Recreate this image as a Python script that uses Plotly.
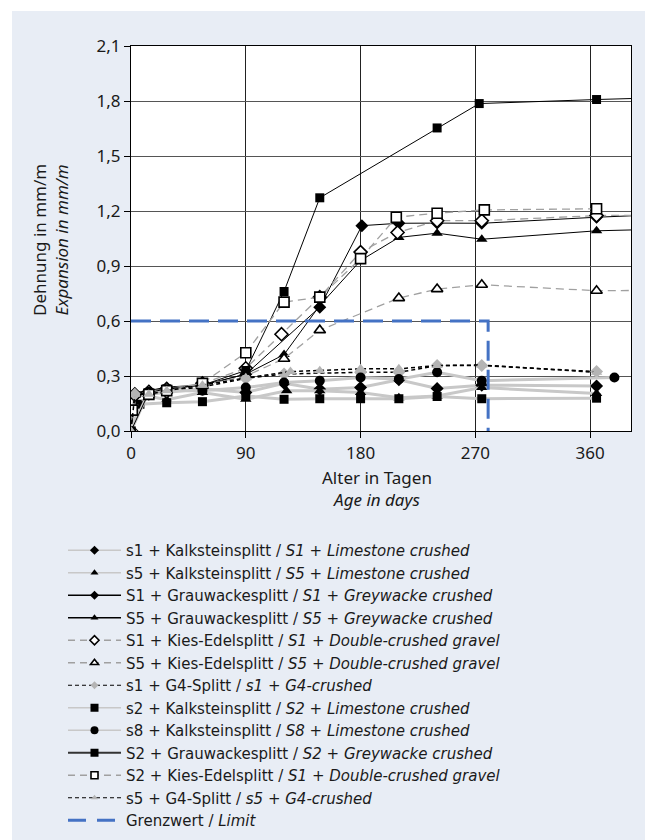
import plotly.graph_objects as go

# ---------------- data ----------------
s1_kalk_days = [0, 3, 14, 28, 56, 90, 120, 148, 180, 210, 240, 275, 365]
s1_kalk_vals = [0.0, 0.19, 0.20, 0.21, 0.23, 0.21, 0.26, 0.228, 0.237, 0.28, 0.232, 0.25, 0.246]

s5_kalk_days = [0, 3, 14, 28, 56, 90, 122, 148, 180, 210, 240, 275, 365]
s5_kalk_vals = [0.0, 0.20, 0.19, 0.17, 0.21, 0.173, 0.219, 0.219, 0.21, 0.182, 0.191, 0.237, 0.205]

S1_grau_days = [0, 3, 14, 28, 56, 90, 148, 181, 210, 240, 275, 365, 400]
S1_grau_vals = [0.0, 0.20, 0.22, 0.23, 0.25, 0.31, 0.675, 1.12, 1.133, 1.134, 1.133, 1.166, 1.176]

S5_grau_days = [0, 3, 14, 28, 56, 90, 120, 148, 180, 210, 240, 275, 365, 400]
S5_grau_vals = [0.0, 0.21, 0.22, 0.24, 0.25, 0.31, 0.417, 0.685, 0.93, 1.056, 1.079, 1.046, 1.092, 1.098]

S1_kies_days = [0, 3, 14, 28, 56, 90, 118, 148, 180, 209, 240, 275, 365, 400]
S1_kies_vals = [0.0, 0.20, 0.21, 0.23, 0.26, 0.342, 0.528, 0.73, 0.976, 1.083, 1.147, 1.147, 1.175, 1.177]

S5_kies_days = [0, 3, 14, 28, 56, 90, 120, 148, 210, 240, 275, 365, 400]
S5_kies_vals = [0.0, 0.20, 0.20, 0.22, 0.25, 0.30, 0.394, 0.55, 0.725, 0.774, 0.798, 0.765, 0.767]

s1_g4_days = [0, 3, 14, 28, 56, 90, 120, 180, 210, 240, 275, 365]
s1_g4_vals = [0.0, 0.20, 0.21, 0.22, 0.24, 0.287, 0.311, 0.32, 0.32, 0.357, 0.357, 0.324]

s2_kalk_days = [0, 7, 28, 56, 90, 120, 148, 180, 210, 240, 275, 365]
s2_kalk_vals = [0.0, 0.146, 0.154, 0.16, 0.191, 0.173, 0.176, 0.176, 0.176, 0.188, 0.176, 0.179]

s8_kalk_days = [0, 14, 28, 56, 90, 120, 148, 180, 210, 240, 275, 379]
s8_kalk_vals = [0.0, 0.215, 0.22, 0.22, 0.237, 0.265, 0.274, 0.292, 0.283, 0.32, 0.274, 0.292]

S2_grau_days = [0, 14, 28, 56, 90, 120, 148, 240, 273, 365, 400]
S2_grau_vals = [0.0, 0.21, 0.23, 0.25, 0.33, 0.761, 1.272, 1.653, 1.786, 1.808, 1.815]

S2_kies_days = [1, 14, 28, 56, 90, 120, 148, 180, 208, 240, 277, 365]
S2_kies_vals = [0.114, 0.20, 0.22, 0.26, 0.427, 0.703, 0.73, 0.94, 1.166, 1.188, 1.206, 1.212]

s5_g4_days = [0, 3, 14, 28, 56, 90, 125, 148, 180, 210, 240, 275, 365]
s5_g4_vals = [0.0, 0.20, 0.20, 0.22, 0.25, 0.29, 0.324, 0.329, 0.339, 0.339, 0.357, 0.36, 0.32]

limit_days = [0, 280, 280]
limit_vals = [0.6, 0.6, 0.0]

x_ticks = [0, 90, 180, 270, 360]
y_ticks = [0.0, 0.3, 0.6, 0.9, 1.2, 1.5, 1.8, 2.1]

x_title = "Alter in Tagen<br><i>Age in days</i>"
y_title = "Dehnung in mm/m<br><i>Expansion in mm/m</i>"

names = [
    "s1 + Kalksteinsplitt / <i>S1 + Limestone crushed</i>",
    "s5 + Kalksteinsplitt / <i>S5 + Limestone crushed</i>",
    "S1 + Grauwackesplitt / <i>S1 + Greywacke crushed</i>",
    "S5 + Grauwackesplitt / <i>S5 + Greywacke crushed</i>",
    "S1 + Kies-Edelsplitt / <i>S1 + Double-crushed gravel</i>",
    "S5 + Kies-Edelsplitt / <i>S5 + Double-crushed gravel</i>",
    "s1 + G4-Splitt / <i>s1 + G4-crushed</i>",
    "s2 + Kalksteinsplitt / <i>S2 + Limestone crushed</i>",
    "s8 + Kalksteinsplitt / <i>S8 + Limestone crushed</i>",
    "S2 + Grauwackesplitt / <i>S2 + Greywacke crushed</i>",
    "S2 + Kies-Edelsplitt / <i>S1 + Double-crushed gravel</i>",
    "s5 + G4-Splitt / <i>s5 + G4-crushed</i>",
    "Grenzwert / <i>Limit</i>",
]

# ---------------- styles ----------------
LIGHT = "#c8c8c8"
MID = "#a0a0a0"
GMARK = "#b4b4b4"
BLUE = "#4472c4"

kalk_line = dict(color=LIGHT, width=3)
grau_line = dict(color="black", width=1)
kies_line = dict(color=MID, width=1.3, dash="8px,5px")
g4_line = dict(color="black", width=1.5, dash="4px,3px")

kalk_leg = dict(color=LIGHT, width=1.5)
grau_leg = dict(color="black", width=1.3)
grau2_leg = dict(color="#333", width=2)
kies_leg = dict(color=MID, width=1.3, dash="7px,5px")
g4_leg = dict(color="black", width=1.2, dash="4px,3px")


def filled(sym, size=9):
    return dict(symbol=sym, size=size, color="black", line=dict(width=0))


def hollow(sym, size=9):
    return dict(symbol=sym, size=size, color="white", line=dict(color="black", width=1.6))


def grey(sym, size=9):
    return dict(symbol=sym, size=size, color=GMARK, line=dict(width=0))


series = [
    (s1_kalk_days, s1_kalk_vals, kalk_line, filled("diamond", 10), kalk_leg, filled("diamond", 7)),
    (s5_kalk_days, s5_kalk_vals, kalk_line, filled("triangle-up", 10), kalk_leg, filled("triangle-up", 7)),
    (S1_grau_days, S1_grau_vals, grau_line, filled("diamond", 10), grau_leg, filled("diamond", 7)),
    (S5_grau_days, S5_grau_vals, grau_line, filled("triangle-up", 10), grau_leg, filled("triangle-up", 7)),
    (S1_kies_days, S1_kies_vals, kies_line, hollow("diamond", 10), kies_leg, hollow("diamond", 7)),
    (S5_kies_days, S5_kies_vals, kies_line, hollow("triangle-up", 10), kies_leg, hollow("triangle-up", 7)),
    (s1_g4_days, s1_g4_vals, g4_line, grey("diamond", 10), g4_leg, grey("diamond", 6)),
    (s2_kalk_days, s2_kalk_vals, kalk_line, filled("square", 9), kalk_leg, filled("square", 8)),
    (s8_kalk_days, s8_kalk_vals, kalk_line, filled("circle", 10), kalk_leg, filled("circle", 8)),
    (S2_grau_days, S2_grau_vals, grau_line, filled("square", 9), grau2_leg, filled("square", 8)),
    (S2_kies_days, S2_kies_vals, kies_line, hollow("square", 10), kies_leg, hollow("square", 7)),
    (s5_g4_days, s5_g4_vals, g4_line, grey("triangle-up", 10), g4_leg, grey("triangle-up", 6)),
]

FONT = "Noto Sans"
LEGFONT = "DejaVu Sans"
TXT = "#1a1a1a"

fig = go.Figure()
# data traces
for (d, v, ln, mk, lln, lmk), nm in zip(series, names[:-1]):
    fig.add_trace(go.Scatter(x=d, y=v, mode="lines+markers", name=nm,
                             line=ln, marker=mk, cliponaxis=True,
                             showlegend=False, legendgroup=nm))
fig.add_trace(go.Scatter(x=limit_days, y=limit_vals, mode="lines", name=names[-1],
                         line=dict(color=BLUE, width=3, dash="20px,9px"),
                         showlegend=False, legendgroup=names[-1]))

# legend entries (same series, legend-sized symbols)
for (d, v, ln, mk, lln, lmk), nm in zip(series, names[:-1]):
    fig.add_trace(go.Scatter(x=[None], y=[None], mode="lines+markers", name=nm,
                             line=lln, marker=lmk, legendgroup=nm))
fig.add_trace(go.Scatter(x=[None], y=[None], mode="lines", name=names[-1],
                         line=dict(color=BLUE, width=3, dash="18px,11px"),
                         legendgroup=names[-1]))

# plot area pixel geometry
L, R, T, B = 131, 631, 46, 431
W, H = 645, 840
pw, ph = R - L, B - T


def px2x(px):
    return (px - L) / pw


def py2y(py):
    return (B - py) / ph


fig.update_layout(
    width=W, height=H,
    margin=dict(l=L, r=W - R, t=T, b=H - B, pad=0, autoexpand=False),
    paper_bgcolor="#e8edf5",
    plot_bgcolor="white",
    separators=",.",
    font=dict(family=FONT, size=17, color=TXT),
    showlegend=True,
    legend=dict(
        x=px2x(63), y=py2y(534), xanchor="left", yanchor="top",
        bgcolor="rgba(0,0,0,0)", itemwidth=53,
        font=dict(family=LEGFONT, size=15, color=TXT),
        tracegroupgap=0, itemclick=False, itemdoubleclick=False,
    ),
    shapes=[
        dict(type="rect", xref="paper", yref="paper",
             x0=px2x(-5), x1=px2x(W + 5), y0=py2y(11), y1=py2y(-5),
             fillcolor="white", line=dict(width=0), layer="below"),
        dict(type="rect", xref="paper", yref="paper",
             x0=px2x(-5), x1=px2x(12), y0=py2y(H + 5), y1=py2y(-5),
             fillcolor="white", line=dict(width=0), layer="below"),
    ],
    annotations=[
        dict(text=x_title, xref="paper", yref="paper",
             x=px2x(377), y=py2y(488), xanchor="center", yanchor="middle",
             showarrow=False, font=dict(family=FONT, size=17, color=TXT)),
        dict(text=y_title, xref="paper", yref="paper", textangle=-90,
             x=px2x(51), y=py2y(240), xanchor="center", yanchor="middle",
             showarrow=False, font=dict(family=FONT, size=17, color=TXT)),
    ],
)

fig.update_xaxes(
    range=[0, 392], tickvals=x_ticks, ticktext=[str(t) for t in x_ticks],
    showline=True, linecolor="black", linewidth=1.2, mirror=True,
    showgrid=True, gridcolor="#222", gridwidth=1,
    ticks="outside", ticklen=6, tickcolor="black",
    tickfont=dict(size=17), automargin=False,
    zeroline=False,
)
fig.update_yaxes(
    range=[0, 2.1], tickvals=y_ticks, tickformat=".1f",
    showline=True, linecolor="black", linewidth=1.2, mirror=True,
    showgrid=True, gridcolor="#555", gridwidth=1.3,
    ticks="outside", ticklen=6, tickcolor="black",
    tickfont=dict(size=17), automargin=False,
    zeroline=False,
)

fig.write_html("out.html")
